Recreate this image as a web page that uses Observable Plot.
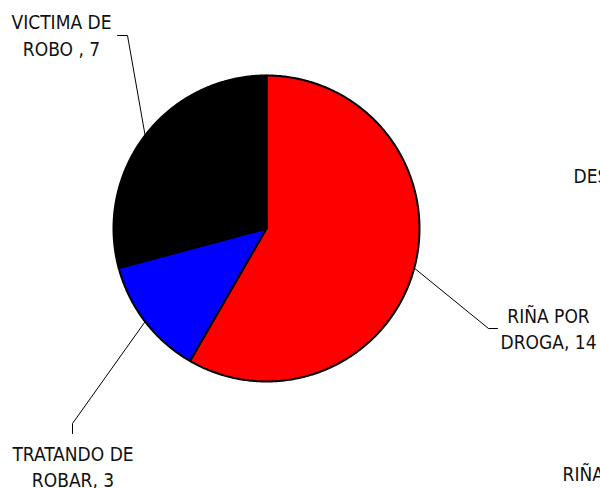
<!DOCTYPE html>
<html>
<head>
<meta charset="utf-8">
<script src="https://cdn.jsdelivr.net/npm/d3@7"></script>
<script src="https://cdn.jsdelivr.net/npm/@observablehq/plot@0.6"></script>
<style>
  html, body { margin: 0; padding: 0; background: #fff; overflow: hidden; }
</style>
</head>
<body>
<div id="chart"></div>
<script>
// ---- data ----
const categories = ["RIÑA POR DROGA", "TRATANDO DE ROBAR", "VICTIMA DE ROBO"];
const values = [14, 3, 7];
const colors = ["#FF0000", "#0000FF", "#000000"];
const labelLines = [
  ["RIÑA POR", "DROGA, 14"],
  ["TRATANDO DE", "ROBAR, 3"],
  ["VICTIMA DE", "ROBO , 7"]
];
// cut-off labels from neighbouring charts
const extraLabels = ["DES", "RIÑA"];

// ---- layout ----
const W = 600, H = 488;
const cx = 266, cy = 228, R = 153;
const labelLayout = [
  {x: 548, y: 327, elbow: [488, 328], end: [497, 328]},
  {x: 72.5, y: 465, elbow: [72, 423], end: [72, 433]},
  {x: 61, y: 33.5, elbow: [127, 35], end: [117, 35]}
];
const extraLayout = [{x: 573, y: 176}, {x: 562, y: 474}];

const arcs = d3.pie().sort(null).value(d => d)(values);

const polyPts = [];
arcs.forEach((a, i) => {
  polyPts.push({k: categories[i], x: cx, y: cy});
  const n = Math.max(8, Math.ceil((a.endAngle - a.startAngle) / 0.01));
  for (let j = 0; j <= n; j++) {
    const t = a.startAngle + (a.endAngle - a.startAngle) * j / n;
    polyPts.push({k: categories[i], x: cx + R * Math.sin(t), y: cy - R * Math.cos(t)});
  }
  polyPts.push({k: categories[i], x: cx, y: cy});
});

const leaderPts = [];
arcs.forEach((a, i) => {
  const m = (a.startAngle + a.endAngle) / 2;
  const L = labelLayout[i];
  leaderPts.push({k: categories[i], x: cx + R * Math.sin(m), y: cy - R * Math.cos(m)});
  leaderPts.push({k: categories[i], x: L.elbow[0], y: L.elbow[1]});
  leaderPts.push({k: categories[i], x: L.end[0], y: L.end[1]});
});

const labels = categories.map((c, i) => ({
  text: labelLines[i].join("\n"), x: labelLayout[i].x, y: labelLayout[i].y
}));
const extras = extraLabels.map((t, i) => ({text: t, ...extraLayout[i]}));

const font = "'DejaVu Sans Condensed', 'DejaVu Sans', sans-serif";

const chart = Plot.plot({
  width: W, height: H,
  margin: 0,
  x: {domain: [0, W], range: [0, W], axis: null},
  y: {domain: [0, H], range: [0, H], axis: null},
  color: {domain: categories, range: colors},
  style: {fontFamily: font, background: "#fff", overflow: "hidden"},
  marks: [
    Plot.line(polyPts, {x: "x", y: "y", z: "k", fill: "k", stroke: "#000", strokeWidth: 2, strokeLinejoin: "round"}),
    Plot.line(leaderPts, {x: "x", y: "y", z: "k", stroke: "#000", strokeWidth: 1}),
    Plot.text(labels, {x: "x", y: "y", text: "text", textAnchor: "middle", lineAnchor: "middle",
      lineHeight: 1.4, fontSize: 19, fill: "#111", fontFamily: font}),
    Plot.text(extras, {x: "x", y: "y", text: "text", textAnchor: "start", lineAnchor: "middle",
      fontSize: 19, fill: "#111", fontFamily: font})
  ]
});
document.getElementById("chart").appendChild(chart);
</script>
</body>
</html>
